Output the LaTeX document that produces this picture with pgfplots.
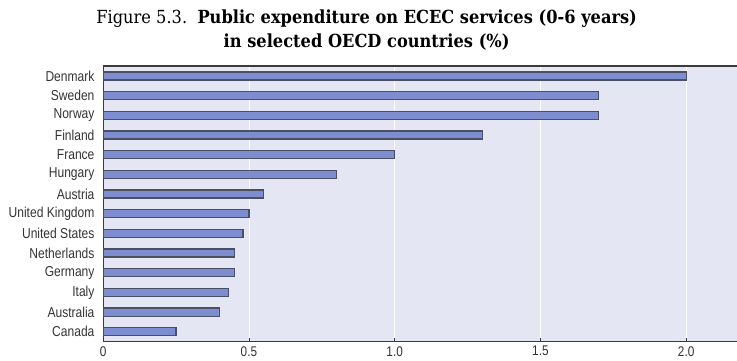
\documentclass[border=0pt]{standalone}
\usepackage{fontspec}
\usepackage{pgfplots}
\pgfplotsset{compat=1.18}
\setmainfont{Liberation Serif}
\newfontfamily\labelfont{Liberation Sans}[FakeStretch=0.84]
\newfontfamily\titlefont{DejaVu Serif}[FakeStretch=0.9]
\definecolor{bgc}{HTML}{E4E6F3}
\definecolor{barc}{HTML}{7D8DD0}
\definecolor{barline}{HTML}{4A4F62}
\definecolor{axc}{HTML}{3A3A3A}
\begin{document}
\begin{tikzpicture}
\begin{axis}[
  scale only axis,
  width=475.5pt, height=206.25pt,
  xmin=0, xmax=2.179,
  ymin=-0.5, ymax=13.5,
  axis background/.style={fill=bgc},
  axis line style={axc, line width=0.9pt},
  axis x line*=bottom,
  axis y line*=left,
  xtick={0,0.5,1,1.5,2},
  xticklabels={0,0.5,1.0,1.5,2.0},
  xticklabel style={font=\labelfont\fontsize{10.5}{12}\selectfont, text=black!80},
  xmajorgrids,
  grid style={white, line width=0.6pt},
  major tick length=3pt,
  tick style={axc, line width=0.6pt},
  tick align=inside,
  ytick={0,...,13},
  yticklabels={Canada,Australia,Italy,Germany,Netherlands,United States,United Kingdom,Austria,Hungary,France,Finland,Norway,Sweden,Denmark},
  yticklabel style={font=\labelfont\fontsize{10.75}{12}\selectfont, text=black!80},
  y tick style={draw=none},
  xbar, bar width=6pt,
  clip=false,
]
\addplot[fill=barc, draw=barline, line width=0.9pt] coordinates {
(0.25,0) (0.40,1) (0.43,2) (0.45,3) (0.45,4) (0.48,5) (0.50,6)
(0.55,7) (0.80,8) (1.00,9) (1.30,10) (1.70,11) (1.70,12) (2.00,13)};
\draw[axc, line width=1.2pt] (rel axis cs:0,1) -- (rel axis cs:1,1);
\end{axis}
\pgfresetboundingbox
\path[use as bounding box] ([xshift=-77.25pt, yshift=-14.25pt]current axis.south west) rectangle ([xshift=-1pt, yshift=49.5pt]current axis.north east);
\node[font=\titlefont\fontsize{13.5}{17.5}\selectfont, align=center, anchor=north, inner sep=0pt] at ([xshift=197.25pt, yshift=42pt]current axis.north west) {Figure 5.3.\ \ \textbf{Public expenditure on ECEC services (0-6 years)}\\\textbf{in selected OECD countries (\%)}};
\end{tikzpicture}
\end{document}
